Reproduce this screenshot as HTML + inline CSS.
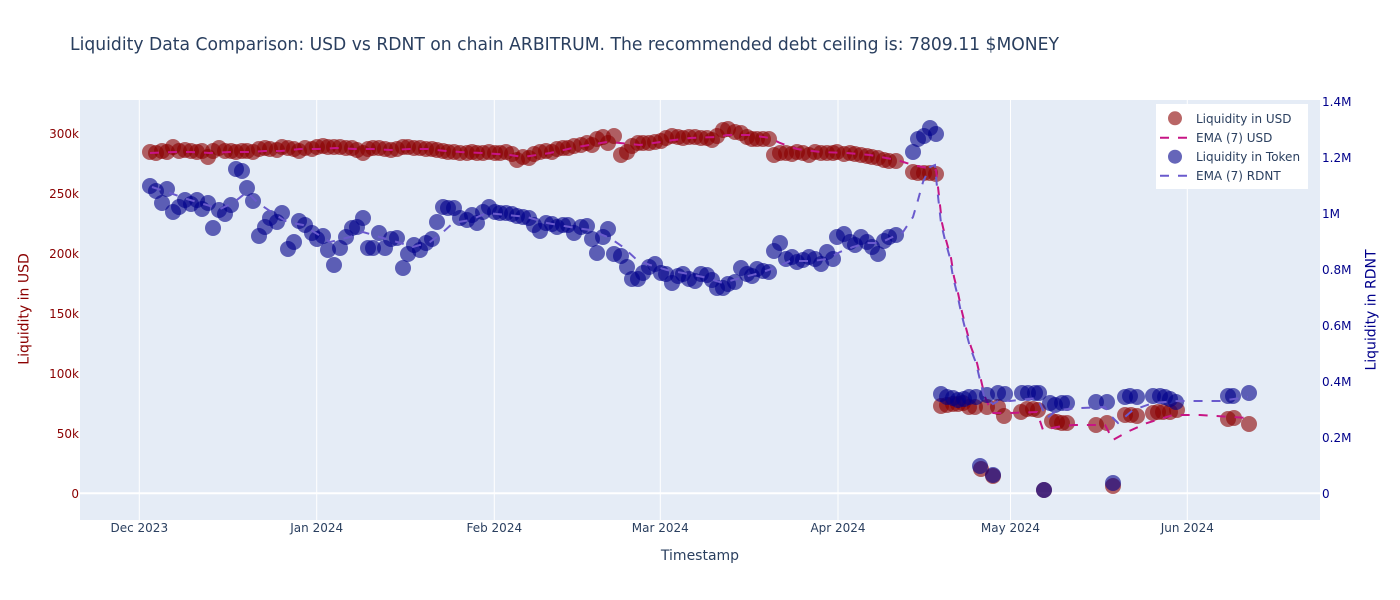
<!DOCTYPE html>
<html><head><meta charset="utf-8"><style>
html,body{margin:0;padding:0;background:#fff;}
svg{display:block;font-family:"DejaVu Sans","Liberation Sans",sans-serif;}
</style></head><body>
<svg width="1400" height="600" viewBox="0 0 1400 600" xmlns="http://www.w3.org/2000/svg">
<rect x="0" y="0" width="1400" height="600" fill="#fff"/>
<rect x="80" y="100" width="1240" height="420" fill="#E5ECF6"/>
<g stroke="#fff" stroke-width="1">
<line x1="139.3" y1="100" x2="139.3" y2="520"/>
<line x1="316.7" y1="100" x2="316.7" y2="520"/>
<line x1="494.3" y1="100" x2="494.3" y2="520"/>
<line x1="660.3" y1="100" x2="660.3" y2="520"/>
<line x1="838" y1="100" x2="838" y2="520"/>
<line x1="1010.5" y1="100" x2="1010.5" y2="520"/>
<line x1="1187.3" y1="100" x2="1187.3" y2="520"/>
</g>
<line x1="80" y1="493.3" x2="1320" y2="493.3" stroke="#fff" stroke-width="2"/>

<!-- USD markers -->
<g fill="#8B0000" fill-opacity="0.6">
<circle cx="150" cy="152" r="8"/><circle cx="156" cy="153" r="8"/><circle cx="162" cy="151" r="8"/><circle cx="167" cy="152" r="8"/><circle cx="173" cy="147" r="8"/><circle cx="179" cy="151" r="8"/><circle cx="185" cy="150" r="8"/><circle cx="191" cy="151" r="8"/><circle cx="197" cy="152" r="8"/><circle cx="202" cy="151" r="8"/><circle cx="208" cy="157" r="8"/><circle cx="213" cy="151" r="8"/><circle cx="219" cy="148" r="8"/><circle cx="225" cy="151" r="8"/><circle cx="231" cy="151" r="8"/><circle cx="236" cy="152" r="8"/><circle cx="242" cy="151" r="8"/><circle cx="247" cy="151" r="8"/><circle cx="253" cy="152" r="8"/><circle cx="259" cy="149" r="8"/><circle cx="265" cy="148" r="8"/><circle cx="270" cy="149" r="8"/><circle cx="277" cy="150" r="8"/><circle cx="282" cy="147" r="8"/><circle cx="288" cy="148" r="8"/><circle cx="294" cy="149" r="8"/><circle cx="299" cy="151" r="8"/><circle cx="305" cy="148" r="8"/><circle cx="312" cy="149" r="8"/><circle cx="317" cy="147" r="8"/><circle cx="323" cy="146" r="8"/><circle cx="328" cy="147" r="8"/><circle cx="334" cy="147" r="8"/><circle cx="340" cy="147" r="8"/><circle cx="346" cy="148" r="8"/><circle cx="352" cy="148" r="8"/><circle cx="357" cy="150" r="8"/><circle cx="363" cy="153" r="8"/><circle cx="368" cy="149" r="8"/><circle cx="373" cy="148" r="8"/><circle cx="379" cy="148" r="8"/><circle cx="385" cy="149" r="8"/><circle cx="391" cy="150" r="8"/><circle cx="397" cy="149" r="8"/><circle cx="403" cy="147" r="8"/><circle cx="408" cy="147" r="8"/><circle cx="414" cy="148" r="8"/><circle cx="420" cy="148" r="8"/><circle cx="426" cy="149" r="8"/><circle cx="432" cy="149" r="8"/><circle cx="437" cy="150" r="8"/><circle cx="443" cy="151" r="8"/><circle cx="448" cy="152" r="8"/><circle cx="454" cy="152" r="8"/><circle cx="460" cy="153" r="8"/>
<circle cx="467" cy="153" r="8"/><circle cx="472" cy="152" r="8"/><circle cx="477" cy="153" r="8"/><circle cx="483" cy="153" r="8"/><circle cx="489" cy="152" r="8"/><circle cx="495" cy="153" r="8"/><circle cx="500" cy="153" r="8"/><circle cx="506" cy="152" r="8"/><circle cx="512" cy="154" r="8"/><circle cx="517" cy="160" r="8"/><circle cx="523" cy="157" r="8"/><circle cx="529" cy="158" r="8"/><circle cx="534" cy="154" r="8"/><circle cx="540" cy="152" r="8"/><circle cx="546" cy="151" r="8"/><circle cx="552" cy="152" r="8"/><circle cx="557" cy="149" r="8"/><circle cx="563" cy="148" r="8"/><circle cx="568" cy="148" r="8"/><circle cx="574" cy="146" r="8"/><circle cx="581" cy="145" r="8"/><circle cx="587" cy="143" r="8"/><circle cx="592" cy="145" r="8"/><circle cx="597" cy="139" r="8"/><circle cx="603" cy="137" r="8"/><circle cx="608" cy="143" r="8"/><circle cx="614" cy="136" r="8"/><circle cx="621" cy="155" r="8"/><circle cx="627" cy="152" r="8"/><circle cx="632" cy="146" r="8"/><circle cx="638" cy="143" r="8"/><circle cx="643" cy="143" r="8"/><circle cx="649" cy="143" r="8"/><circle cx="655" cy="142" r="8"/><circle cx="661" cy="141" r="8"/><circle cx="666" cy="138" r="8"/><circle cx="672" cy="136" r="8"/><circle cx="678" cy="137" r="8"/><circle cx="683" cy="138" r="8"/><circle cx="689" cy="137" r="8"/><circle cx="695" cy="137" r="8"/><circle cx="701" cy="138" r="8"/><circle cx="707" cy="138" r="8"/><circle cx="712" cy="140" r="8"/><circle cx="717" cy="136" r="8"/><circle cx="723" cy="130" r="8"/><circle cx="728" cy="129" r="8"/><circle cx="735" cy="132" r="8"/><circle cx="741" cy="133" r="8"/><circle cx="747" cy="137" r="8"/><circle cx="752" cy="139" r="8"/><circle cx="757" cy="139" r="8"/><circle cx="763" cy="139" r="8"/><circle cx="769" cy="139" r="8"/><circle cx="774" cy="155" r="8"/><circle cx="780" cy="153" r="8"/>
<circle cx="786" cy="153" r="8"/><circle cx="792" cy="154" r="8"/><circle cx="797" cy="152" r="8"/><circle cx="803" cy="153" r="8"/><circle cx="809" cy="155" r="8"/><circle cx="815" cy="152" r="8"/><circle cx="821" cy="153" r="8"/><circle cx="827" cy="153" r="8"/><circle cx="833" cy="153" r="8"/><circle cx="837" cy="152" r="8"/><circle cx="844" cy="154" r="8"/><circle cx="850" cy="153" r="8"/><circle cx="855" cy="154" r="8"/><circle cx="861" cy="155" r="8"/><circle cx="867" cy="156" r="8"/><circle cx="872" cy="157" r="8"/><circle cx="878" cy="158" r="8"/><circle cx="884" cy="160" r="8"/><circle cx="889" cy="161" r="8"/><circle cx="896" cy="161" r="8"/><circle cx="913" cy="172" r="8"/><circle cx="918" cy="173" r="8"/><circle cx="924" cy="173" r="8"/><circle cx="930" cy="173" r="8"/><circle cx="936" cy="174" r="8"/>
<circle cx="941" cy="406" r="8"/><circle cx="947" cy="405" r="8"/><circle cx="953" cy="404" r="8"/><circle cx="958" cy="404" r="8"/><circle cx="963" cy="403" r="8"/><circle cx="969" cy="407" r="8"/><circle cx="975" cy="407" r="8"/><circle cx="981" cy="469" r="8"/><circle cx="987" cy="407" r="8"/><circle cx="993" cy="476" r="8"/><circle cx="998" cy="407" r="8"/><circle cx="1004" cy="416" r="8"/><circle cx="1021" cy="412" r="8"/><circle cx="1027" cy="409" r="8"/><circle cx="1033" cy="409" r="8"/><circle cx="1038" cy="410" r="8"/><circle cx="1044" cy="490" r="8"/><circle cx="1052" cy="421" r="8"/><circle cx="1057" cy="422" r="8"/><circle cx="1062" cy="423" r="8"/><circle cx="1067" cy="423" r="8"/><circle cx="1096" cy="425" r="8"/><circle cx="1107" cy="423" r="8"/><circle cx="1113" cy="486" r="8"/><circle cx="1125" cy="415" r="8"/><circle cx="1131" cy="415" r="8"/><circle cx="1137" cy="416" r="8"/><circle cx="1153" cy="413" r="8"/><circle cx="1158" cy="412" r="8"/><circle cx="1163" cy="412" r="8"/><circle cx="1170" cy="412" r="8"/><circle cx="1177" cy="410" r="8"/><circle cx="1228" cy="419" r="8"/><circle cx="1234" cy="418" r="8"/><circle cx="1249" cy="424" r="8"/>
</g>

<!-- EMA USD -->
<polyline fill="none" stroke="#C71585" stroke-width="2" stroke-dasharray="9,9" points="150,153 175,152 191,152 210,153 230,152 250,152 265,151 281,151 300,149 318,149 336,148 355,149 373,149 391,150 410,149 428,149 446,151 460,152 483,153 510,155 523,157 550,153 577,147 607,142 620,143 640,145 667,141 690,138 717,137 727,135 750,135 770,138 780,143 797,149 820,152 847,153 870,155 897,160 913,165 927,168 936,170 938,187 940,205 942,223 946,240 951,258 954,277 958,293 962,312 966,328 971,347 977,363 981,380 985,397 992,413 1010,413 1037,412 1043,430 1057,427 1073,425 1105,425 1113,440 1127,432 1147,423 1173,415 1200,415 1248,418"/>

<!-- Token markers -->
<g fill="#00008B" fill-opacity="0.6">
<circle cx="150" cy="186" r="8"/><circle cx="156" cy="191" r="8"/><circle cx="162" cy="203" r="8"/><circle cx="167" cy="189" r="8"/><circle cx="173" cy="212" r="8"/><circle cx="179" cy="207" r="8"/><circle cx="185" cy="200" r="8"/><circle cx="191" cy="204" r="8"/><circle cx="197" cy="200" r="8"/><circle cx="202" cy="209" r="8"/><circle cx="208" cy="203" r="8"/><circle cx="213" cy="228" r="8"/><circle cx="219" cy="210" r="8"/><circle cx="225" cy="214" r="8"/><circle cx="231" cy="205" r="8"/><circle cx="236" cy="169" r="8"/><circle cx="242" cy="171" r="8"/><circle cx="247" cy="188" r="8"/><circle cx="253" cy="201" r="8"/><circle cx="259" cy="236" r="8"/><circle cx="265" cy="227" r="8"/><circle cx="270" cy="218" r="8"/><circle cx="277" cy="222" r="8"/><circle cx="282" cy="213" r="8"/><circle cx="288" cy="249" r="8"/><circle cx="294" cy="242" r="8"/><circle cx="299" cy="221" r="8"/><circle cx="305" cy="225" r="8"/><circle cx="312" cy="233" r="8"/><circle cx="317" cy="239" r="8"/><circle cx="323" cy="236" r="8"/><circle cx="328" cy="250" r="8"/><circle cx="334" cy="265" r="8"/><circle cx="340" cy="248" r="8"/><circle cx="346" cy="237" r="8"/><circle cx="352" cy="228" r="8"/><circle cx="357" cy="227" r="8"/><circle cx="363" cy="218" r="8"/><circle cx="368" cy="248" r="8"/><circle cx="373" cy="248" r="8"/><circle cx="379" cy="233" r="8"/><circle cx="385" cy="248" r="8"/><circle cx="391" cy="239" r="8"/><circle cx="397" cy="238" r="8"/><circle cx="403" cy="268" r="8"/><circle cx="408" cy="254" r="8"/><circle cx="414" cy="245" r="8"/><circle cx="420" cy="250" r="8"/><circle cx="426" cy="243" r="8"/><circle cx="432" cy="239" r="8"/><circle cx="437" cy="222" r="8"/><circle cx="443" cy="207" r="8"/><circle cx="448" cy="208" r="8"/><circle cx="454" cy="208" r="8"/><circle cx="460" cy="218" r="8"/>
<circle cx="467" cy="220" r="8"/><circle cx="472" cy="215" r="8"/><circle cx="477" cy="223" r="8"/><circle cx="483" cy="212" r="8"/><circle cx="489" cy="207" r="8"/><circle cx="495" cy="212" r="8"/><circle cx="500" cy="213" r="8"/><circle cx="506" cy="213" r="8"/><circle cx="512" cy="214" r="8"/><circle cx="517" cy="216" r="8"/><circle cx="523" cy="217" r="8"/><circle cx="529" cy="218" r="8"/><circle cx="534" cy="225" r="8"/><circle cx="540" cy="231" r="8"/><circle cx="546" cy="223" r="8"/><circle cx="552" cy="224" r="8"/><circle cx="557" cy="227" r="8"/><circle cx="563" cy="225" r="8"/><circle cx="568" cy="225" r="8"/><circle cx="574" cy="233" r="8"/><circle cx="581" cy="227" r="8"/><circle cx="587" cy="226" r="8"/><circle cx="592" cy="239" r="8"/><circle cx="597" cy="253" r="8"/><circle cx="603" cy="237" r="8"/><circle cx="608" cy="229" r="8"/><circle cx="614" cy="254" r="8"/><circle cx="621" cy="256" r="8"/><circle cx="627" cy="267" r="8"/><circle cx="632" cy="279" r="8"/><circle cx="638" cy="279" r="8"/><circle cx="643" cy="273" r="8"/><circle cx="649" cy="267" r="8"/><circle cx="655" cy="264" r="8"/><circle cx="661" cy="273" r="8"/><circle cx="666" cy="274" r="8"/><circle cx="672" cy="283" r="8"/><circle cx="678" cy="276" r="8"/><circle cx="683" cy="274" r="8"/><circle cx="689" cy="279" r="8"/><circle cx="695" cy="281" r="8"/><circle cx="701" cy="274" r="8"/><circle cx="707" cy="275" r="8"/><circle cx="712" cy="280" r="8"/><circle cx="717" cy="288" r="8"/><circle cx="723" cy="288" r="8"/><circle cx="728" cy="284" r="8"/><circle cx="735" cy="282" r="8"/><circle cx="741" cy="268" r="8"/><circle cx="747" cy="274" r="8"/><circle cx="752" cy="276" r="8"/><circle cx="757" cy="269" r="8"/><circle cx="763" cy="271" r="8"/><circle cx="769" cy="272" r="8"/><circle cx="774" cy="251" r="8"/><circle cx="780" cy="243" r="8"/>
<circle cx="786" cy="259" r="8"/><circle cx="792" cy="257" r="8"/><circle cx="797" cy="262" r="8"/><circle cx="803" cy="260" r="8"/><circle cx="809" cy="257" r="8"/><circle cx="815" cy="259" r="8"/><circle cx="821" cy="264" r="8"/><circle cx="827" cy="252" r="8"/><circle cx="833" cy="259" r="8"/><circle cx="837" cy="237" r="8"/><circle cx="844" cy="234" r="8"/><circle cx="850" cy="242" r="8"/><circle cx="855" cy="245" r="8"/><circle cx="861" cy="237" r="8"/><circle cx="867" cy="242" r="8"/><circle cx="872" cy="247" r="8"/><circle cx="878" cy="254" r="8"/><circle cx="884" cy="241" r="8"/><circle cx="889" cy="237" r="8"/><circle cx="896" cy="235" r="8"/><circle cx="913" cy="152" r="8"/><circle cx="918" cy="139" r="8"/><circle cx="924" cy="136" r="8"/><circle cx="930" cy="128" r="8"/><circle cx="936" cy="134" r="8"/>
<circle cx="941" cy="394" r="8"/><circle cx="947" cy="397" r="8"/><circle cx="953" cy="398" r="8"/><circle cx="958" cy="400" r="8"/><circle cx="964" cy="399" r="8"/><circle cx="969" cy="397" r="8"/><circle cx="976" cy="397" r="8"/><circle cx="980" cy="466" r="8"/><circle cx="987" cy="395" r="8"/><circle cx="993" cy="475" r="8"/><circle cx="998" cy="393" r="8"/><circle cx="1005" cy="394" r="8"/><circle cx="1022" cy="393" r="8"/><circle cx="1028" cy="393" r="8"/><circle cx="1035" cy="393" r="8"/><circle cx="1039" cy="393" r="8"/><circle cx="1044" cy="490" r="8"/><circle cx="1050" cy="403" r="8"/><circle cx="1055" cy="405" r="8"/><circle cx="1062" cy="403" r="8"/><circle cx="1067" cy="403" r="8"/><circle cx="1096" cy="402" r="8"/><circle cx="1107" cy="402" r="8"/><circle cx="1113" cy="483" r="8"/><circle cx="1125" cy="397" r="8"/><circle cx="1130" cy="396" r="8"/><circle cx="1137" cy="397" r="8"/><circle cx="1153" cy="396" r="8"/><circle cx="1160" cy="396" r="8"/><circle cx="1165" cy="397" r="8"/><circle cx="1170" cy="399" r="8"/><circle cx="1176" cy="402" r="8"/><circle cx="1228" cy="396" r="8"/><circle cx="1233" cy="396" r="8"/><circle cx="1249" cy="393" r="8"/>
</g>

<!-- EMA RDNT -->
<polyline fill="none" stroke="#6A5ACD" stroke-width="2" stroke-dasharray="9,9" points="152,187 170,193 187,199 200,203 220,209 233,203 247,192 258,203 273,213 287,222 303,225 330,242 350,237 363,232 383,238 397,242 413,247 430,242 442,233 453,223 470,220 487,213 507,215 527,217 547,223 570,227 590,230 610,238 623,247 637,260 650,265 667,270 683,273 703,277 723,283 740,278 760,273 777,267 790,261 813,261 827,259 840,252 853,247 867,243 880,243 903,232 913,217 918,200 923,182 930,167 935,165 937,187 939,205 941,223 945,240 950,258 953,277 957,293 961,312 965,328 970,347 976,363 980,380 984,396 993,404 1000,400 1010,401 1037,398 1042,408 1047,418 1057,410 1080,408 1105,407 1112,417 1118,423 1133,410 1153,403 1177,401 1220,401 1248,397"/>

<!-- Title -->
<text x="70" y="50" font-size="18" fill="#2a3f5f" textLength="989" lengthAdjust="spacingAndGlyphs">Liquidity Data Comparison: USD vs RDNT on chain ARBITRUM. The recommended debt ceiling is: 7809.11 $MONEY</text>

<!-- Left axis ticks -->
<g font-size="12" fill="#8B0000" text-anchor="end">
<text x="79" y="138">300k</text>
<text x="79" y="198">250k</text>
<text x="79" y="258">200k</text>
<text x="79" y="318">150k</text>
<text x="79" y="378">100k</text>
<text x="79" y="438">50k</text>
<text x="79" y="498">0</text>
</g>
<text transform="translate(28.5,309) rotate(-90)" font-size="14" fill="#8B0000" text-anchor="middle">Liquidity in USD</text>

<!-- Right axis ticks -->
<g font-size="12" fill="#00008B" text-anchor="start">
<text x="1322" y="106">1.4M</text>
<text x="1322" y="162">1.2M</text>
<text x="1322" y="218">1M</text>
<text x="1322" y="274">0.8M</text>
<text x="1322" y="330">0.6M</text>
<text x="1322" y="386">0.4M</text>
<text x="1322" y="442">0.2M</text>
<text x="1322" y="498">0</text>
</g>
<text transform="translate(1375.5,310) rotate(-90)" font-size="14" fill="#00008B" text-anchor="middle">Liquidity in RDNT</text>

<!-- X axis ticks -->
<g font-size="12" fill="#2a3f5f" text-anchor="middle">
<text x="139.3" y="532">Dec 2023</text>
<text x="316.7" y="532">Jan 2024</text>
<text x="494.3" y="532">Feb 2024</text>
<text x="660.3" y="532">Mar 2024</text>
<text x="838" y="532">Apr 2024</text>
<text x="1010.5" y="532">May 2024</text>
<text x="1187.3" y="532">Jun 2024</text>
</g>
<text x="700" y="560" font-size="14" fill="#2a3f5f" text-anchor="middle">Timestamp</text>

<!-- Legend -->
<rect x="1156" y="104" width="152" height="85" fill="#fff"/>
<circle cx="1175" cy="118.3" r="7" fill="#8B0000" fill-opacity="0.6"/>
<line x1="1160" y1="137.7" x2="1190" y2="137.7" stroke="#C71585" stroke-width="2" stroke-dasharray="9,9"/>
<circle cx="1175" cy="156.7" r="7" fill="#00008B" fill-opacity="0.6"/>
<line x1="1160" y1="175.7" x2="1190" y2="175.7" stroke="#6A5ACD" stroke-width="2" stroke-dasharray="9,9"/>
<g font-size="12" fill="#2a3f5f">
<text x="1196" y="122.8">Liquidity in USD</text>
<text x="1196" y="142.2">EMA (7) USD</text>
<text x="1196" y="161.2">Liquidity in Token</text>
<text x="1196" y="180.2">EMA (7) RDNT</text>
</g>
</svg>
</body></html>
